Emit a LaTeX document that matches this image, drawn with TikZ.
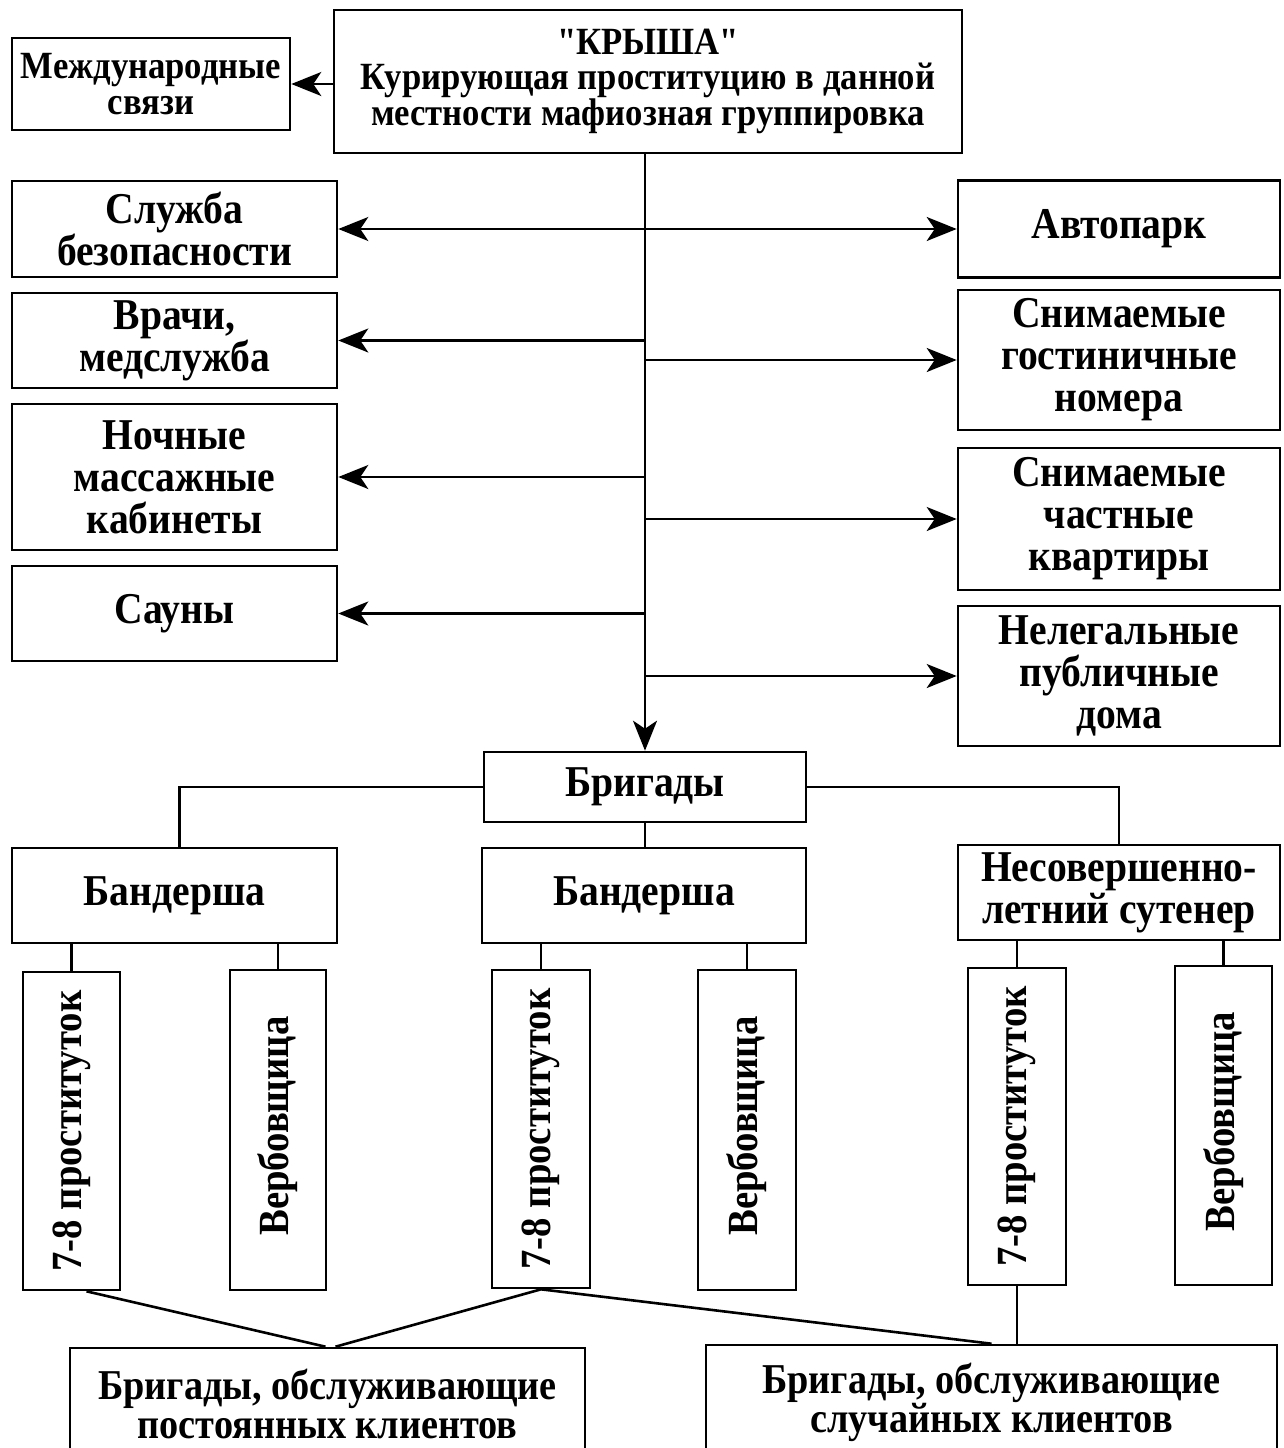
\documentclass[tikz,border=0pt]{standalone}
\usepackage{fontspec}
\setmainfont{Liberation Serif}[FakeStretch=0.9, Ligatures=TeXOff]
\usetikzlibrary{arrows.meta}
\begin{document}
\begin{tikzpicture}[x=1pt,y=-1pt,
  box/.style={draw, line width=2.6pt, inner sep=0pt, align=center,
    font=\bfseries\fontsize{44}{42}\selectfont},
  smalltext/.style={font=\bfseries\fontsize{38.5}{35}\selectfont},
  midtext/.style={font=\bfseries\fontsize{42.5}{39}\selectfont},
  vtext/.style={rotate=90, inner sep=0pt, font=\bfseries\fontsize{43}{42}\selectfont},
  ln/.style={line width=2.6pt},
  arr/.style={line width=2.6pt, -{Stealth[length=30pt,width=24pt,inset=8pt]}}]
\useasboundingbox (0,0) rectangle (1284,1448);
\clip (0,0) rectangle (1284,1448);
\fill[white] (0,0) rectangle (1284,1448);
% top
\node[box, smalltext, minimum width=628pt, minimum height=143pt] (krysha) at (648,81.5)
  {"КРЫША"\\Курирующая проституцию в данной\\местности мафиозная группировка};
\node[box, font=\bfseries\fontsize{38.5}{36}\selectfont, minimum width=278pt, minimum height=92pt] (intl) at (151,84)
  {Международные\\связи};
% left column
\node[box, minimum width=325pt, minimum height=96pt] (sec) at (174.5,229) {Служба\\безопасности};
\node[box, minimum width=325pt, minimum height=95pt] (doc) at (174.5,340.5) {Врачи,\\медслужба};
\node[box, minimum width=325pt, minimum height=146pt] (mass) at (174.5,477) {Ночные\\массажные\\кабинеты};
\node[box, minimum width=325pt, minimum height=95pt] (sauna) at (174.5,613.5) {Сауны};
% right column
\node[box, minimum width=322pt, minimum height=97pt] (auto) at (1119,229) {Автопарк};
\node[box, minimum width=322pt, minimum height=140pt] (hotel) at (1119,360) {Снимаемые\\гостиничные\\номера};
\node[box, minimum width=322pt, minimum height=142pt] (flat) at (1119,519) {Снимаемые\\частные\\квартиры};
\node[box, minimum width=322pt, minimum height=140pt] (brothel) at (1119,676) {Нелегальные\\публичные\\дома};
% brigades
\node[box, minimum width=322pt, minimum height=70pt] (brig) at (645,787) {Бригады};
\node[box, minimum width=325pt, minimum height=95pt] (band1) at (174.5,895.5) {Бандерша};
\node[box, minimum width=324pt, minimum height=95pt] (band2) at (644,895.5) {Бандерша};
\node[box, minimum width=322pt, minimum height=95pt] (minor) at (1119,892.5) {Несовершенно-\\летний сутенер};
% vertical boxes
\node[box, minimum width=97pt, minimum height=318pt] (p1) at (71.5,1131) {};
\node[box, minimum width=96pt, minimum height=320pt] (v1) at (278,1130) {};
\node[box, minimum width=98pt, minimum height=318pt] (p2) at (541,1129) {};
\node[box, minimum width=98pt, minimum height=320pt] (v2) at (747,1130) {};
\node[box, minimum width=98pt, minimum height=317pt] (p3) at (1017,1126.5) {};
\node[box, minimum width=97pt, minimum height=319pt] (v3) at (1223.5,1125.5) {};
\node[vtext] (p1t) at (p1) {7-8 проституток};
\node[vtext] (v1t) at ([yshift=4pt]v1.center) {Вербовщица};
\node[vtext] (p2t) at (p2) {7-8 проституток};
\node[vtext] (v2t) at ([yshift=4pt]v2.center) {Вербовщица};
\node[vtext] (p3t) at (p3) {7-8 проституток};
\node[vtext] (v3t) at ([yshift=4pt]v3.center) {Вербовщица};
% bottom boxes
\node[box, midtext, minimum width=515pt, minimum height=112pt] (reg) at (327.5,1404) {Бригады, обслуживающие\\постоянных клиентов};
\node[box, midtext, minimum width=571pt, minimum height=115pt] (rand) at (991.5,1402.5) {Бригады, обслуживающие\\случайных клиентов};
% connectors
\draw[arr] (krysha.west |- intl.east) -- (intl.east);
\draw[arr] (krysha.south -| brig.north) -- (brig.north);
\draw[arr] (brig.north |- sec.east) -- (sec.east);
\draw[arr] (brig.north |- doc.east) -- (doc.east);
\draw[arr] (brig.north |- mass.east) -- (mass.east);
\draw[arr] (brig.north |- sauna.east) -- (sauna.east);
\draw[arr] (brig.north |- auto.west) -- (auto.west);
\draw[arr] (brig.north |- hotel.west) -- (hotel.west);
\draw[arr] (brig.north |- flat.west) -- (flat.west);
\draw[arr] (brig.north |- brothel.west) -- (brothel.west);
\draw[ln] (brig.west) -| ([xshift=5pt]band1.north);
\draw[ln] (brig.east) -| (minor.north);
\draw[ln] (brig.south) -- (brig.south |- band2.north);
\draw[ln] (p1.north) -- (p1.north |- band1.south);
\draw[ln] (v1.north) -- (v1.north |- band1.south);
\draw[ln] (p2.north) -- (p2.north |- band2.south);
\draw[ln] (v2.north) -- (v2.north |- band2.south);
\draw[ln] (p3.north) -- (p3.north |- minor.south);
\draw[ln] (v3.north) -- (v3.north |- minor.south);
\draw[ln] ([xshift=15pt]p1.south) -- ([xshift=-2pt]reg.north);
\draw[ln] (p2.south) -- ([xshift=8pt]reg.north);
\draw[ln] (p2.south) -- (rand.north);
\draw[ln] (p3.south) -- (p3.south |- rand.north);
\end{tikzpicture}
\end{document}
